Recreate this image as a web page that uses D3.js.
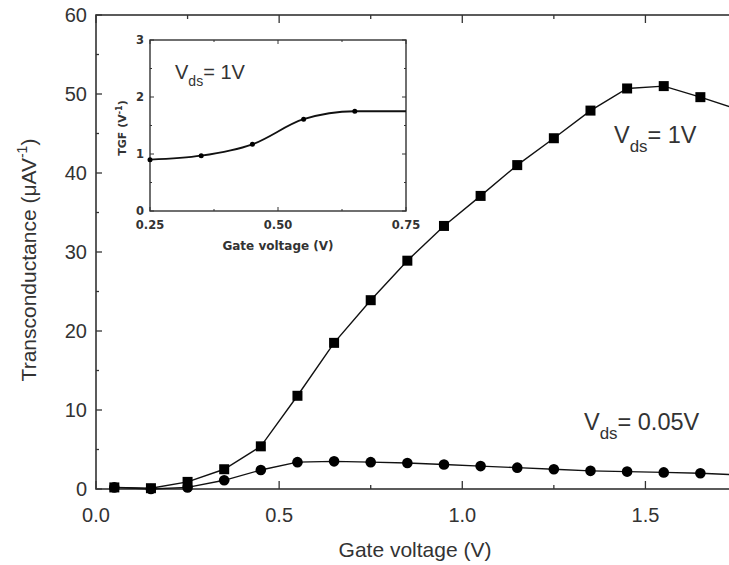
<!DOCTYPE html>
<head>
  <meta charset="utf-8">
  <script src="https://d3js.org/d3.v7.min.js"></script>
  <style>
    body { margin:0; background:#fff; }
    text { font-family: "Liberation Sans", Arial, sans-serif; fill:#333; }
    .ins text { font-family: "DejaVu Sans", sans-serif; font-weight: bold; }
  </style>
</head>
<body>
<script>
// main plot data
var gateV = [0.05,0.15,0.25,0.35,0.45,0.55,0.65,0.75,0.85,0.95,1.05,1.15,1.25,1.35,1.45,1.55,1.65,1.75];
var gm1V  = [0.2,0.1,0.9,2.5,5.4,11.8,18.5,23.9,28.9,33.3,37.1,41.0,44.4,47.9,50.7,51.0,49.6,48.1];
var gm005V= [0.2,0.0,0.2,1.1,2.4,3.4,3.5,3.4,3.3,3.1,2.9,2.7,2.5,2.3,2.2,2.1,2.0,1.8];
var xTicks = [0, 0.5, 1.0, 1.5];
var yTicks = [0, 10, 20, 30, 40, 50, 60];
// inset data
var insetV = [0.25,0.35,0.45,0.55,0.65,0.75];
var tgf    = [0.9,0.97,1.17,1.61,1.75,1.75];
var insetXTicks = [0.25, 0.50, 0.75];
var insetYTicks = [0, 1, 2, 3];

var W = 729, H = 565;
var svg = d3.select('body').append('svg').attr('width', W).attr('height', H);

var x = d3.scaleLinear().domain([0, 1.75]).range([96, 737]);
var y = d3.scaleLinear().domain([0, 60]).range([489, 15]);

// frame
svg.append('rect').attr('x', 96).attr('y', 15).attr('width', 737-96).attr('height', 489-15)
  .attr('fill', 'none').attr('stroke', '#333').attr('stroke-width', 1.6);

function ticks(sel, scale, vals, len, axis) {
  vals.forEach(function(v) {
    var p = scale(v);
    if (axis === 'x') {
      sel.append('line').attr('x1', p).attr('x2', p).attr('y1', 489).attr('y2', 489 - len);
      sel.append('line').attr('x1', p).attr('x2', p).attr('y1', 15).attr('y2', 15 + len);
    } else {
      sel.append('line').attr('y1', p).attr('y2', p).attr('x1', 96).attr('x2', 96 + len);
      sel.append('line').attr('y1', p).attr('y2', p).attr('x1', 737).attr('x2', 737 - len);
    }
  });
}
var tg = svg.append('g').attr('stroke', '#333').attr('stroke-width', 1.3);
ticks(tg, x, xTicks, 8, 'x');
ticks(tg, x, [0.25, 0.75, 1.25], 4, 'x');
ticks(tg, y, yTicks, 6, 'y');
ticks(tg, y, [5, 15, 25, 35, 45, 55], 3, 'y');

svg.selectAll('.xl').data(xTicks).enter().append('text')
  .attr('x', function(d) { return x(d); }).attr('y', 522)
  .attr('text-anchor', 'middle').attr('font-size', 20)
  .text(function(d) { return d.toFixed(1); });
svg.selectAll('.yl').data(yTicks).enter().append('text')
  .attr('x', 87).attr('y', function(d) { return y(d) + 7; })
  .attr('text-anchor', 'end').attr('font-size', 20)
  .text(function(d) { return d; });

svg.append('text').attr('x', 415).attr('y', 557).attr('text-anchor', 'middle')
  .attr('font-size', 21).text('Gate voltage (V)');
var yl = svg.append('text').attr('transform', 'translate(36,260) rotate(-90)')
  .attr('text-anchor', 'middle').attr('font-size', 21);
yl.append('tspan').text('Transconductance (μAV');
yl.append('tspan').attr('font-size', 14).attr('dy', -9).text('-1');
yl.append('tspan').attr('dy', 9).text(')');

// series
var line = d3.line().x(function(d) { return x(d[0]); }).y(function(d) { return y(d[1]); });
var s1 = gateV.map(function(v, i) { return [v, gm1V[i]]; });
var s2 = gateV.map(function(v, i) { return [v, gm005V[i]]; });
svg.append('path').attr('d', line(s1)).attr('fill', 'none').attr('stroke', '#111').attr('stroke-width', 1.4);
svg.append('path').attr('d', line(s2)).attr('fill', 'none').attr('stroke', '#111').attr('stroke-width', 1.4);
svg.selectAll('.sq').data(s1).enter().append('rect')
  .attr('x', function(d) { return x(d[0]) - 5; }).attr('y', function(d) { return y(d[1]) - 5; })
  .attr('width', 10).attr('height', 10).attr('fill', '#000');
svg.selectAll('.ci').data(s2).enter().append('circle')
  .attr('cx', function(d) { return x(d[0]); }).attr('cy', function(d) { return y(d[1]); })
  .attr('r', 5.3).attr('fill', '#000');

function vlabel(px, py, rest, fs) {
  var t = svg.append('text').attr('x', px).attr('y', py).attr('font-size', fs);
  t.append('tspan').text('V');
  t.append('tspan').attr('font-size', fs * 0.72).attr('dy', fs * 0.38).text('ds');
  t.append('tspan').attr('dy', -fs * 0.38).text(rest);
}
vlabel(614, 143, '= 1V', 23.5);
vlabel(584, 430, '= 0.05V', 23.5);

// inset
var ix = d3.scaleLinear().domain([0.25, 0.75]).range([150, 406]);
var iy = d3.scaleLinear().domain([0, 3]).range([211, 40]);
var ins = svg.append('g').attr('class', 'ins');
ins.append('rect').attr('x', 150).attr('y', 40).attr('width', 256).attr('height', 171)
  .attr('fill', '#fff').attr('stroke', '#333').attr('stroke-width', 1.4);
var itg = ins.append('g').attr('stroke', '#333').attr('stroke-width', 1);
insetXTicks.concat([0.375, 0.625]).forEach(function(v) {
  var len = insetXTicks.indexOf(v) >= 0 ? 4 : 2;
  itg.append('line').attr('x1', ix(v)).attr('x2', ix(v)).attr('y1', 211).attr('y2', 211 - len);
  itg.append('line').attr('x1', ix(v)).attr('x2', ix(v)).attr('y1', 40).attr('y2', 40 + len);
});
insetYTicks.concat([0.5, 1.5, 2.5]).forEach(function(v) {
  var len = insetYTicks.indexOf(v) >= 0 ? 4 : 2;
  itg.append('line').attr('y1', iy(v)).attr('y2', iy(v)).attr('x1', 150).attr('x2', 150 + len);
  itg.append('line').attr('y1', iy(v)).attr('y2', iy(v)).attr('x1', 406).attr('x2', 406 - len);
});
ins.selectAll('.ixl').data(insetXTicks).enter().append('text')
  .attr('x', function(d) { return ix(d); }).attr('y', 229).attr('text-anchor', 'middle')
  .attr('font-size', 11.5).text(function(d) { return d.toFixed(2); });
ins.selectAll('.iyl').data(insetYTicks).enter().append('text')
  .attr('x', 144).attr('y', function(d) { return iy(d) + 4; }).attr('text-anchor', 'end')
  .attr('font-size', 11.5).text(function(d) { return d; });
ins.append('text').attr('x', 278).attr('y', 250).attr('text-anchor', 'middle')
  .attr('font-size', 12).text('Gate voltage (V)');
var iyl = ins.append('text').attr('transform', 'translate(126,128) rotate(-90)')
  .attr('text-anchor', 'middle').attr('font-size', 11);
iyl.append('tspan').text('TGF (V');
iyl.append('tspan').attr('font-size', 8).attr('dy', -4).text('-1');
iyl.append('tspan').attr('dy', 4).text(')');

var iline = d3.line().curve(d3.curveMonotoneX)
  .x(function(d) { return ix(d[0]); }).y(function(d) { return iy(d[1]); });
var s3 = insetV.map(function(v, i) { return [v, tgf[i]]; });
ins.append('path').attr('d', iline(s3)).attr('fill', 'none').attr('stroke', '#111').attr('stroke-width', 1.8);
ins.selectAll('.dt').data(s3.slice(0, 5)).enter().append('circle')
  .attr('cx', function(d) { return ix(d[0]); }).attr('cy', function(d) { return iy(d[1]); })
  .attr('r', 2.5).attr('fill', '#000');
var it = ins.append('text').attr('x', 175).attr('y', 79).attr('font-size', 20)
  .style('font-family', '"Liberation Sans", Arial, sans-serif').style('font-weight', 'normal');
it.append('tspan').text('V');
it.append('tspan').attr('font-size', 14).attr('dy', 7).text('ds');
it.append('tspan').attr('dy', -7).text('= 1V');
</script>
</body>
